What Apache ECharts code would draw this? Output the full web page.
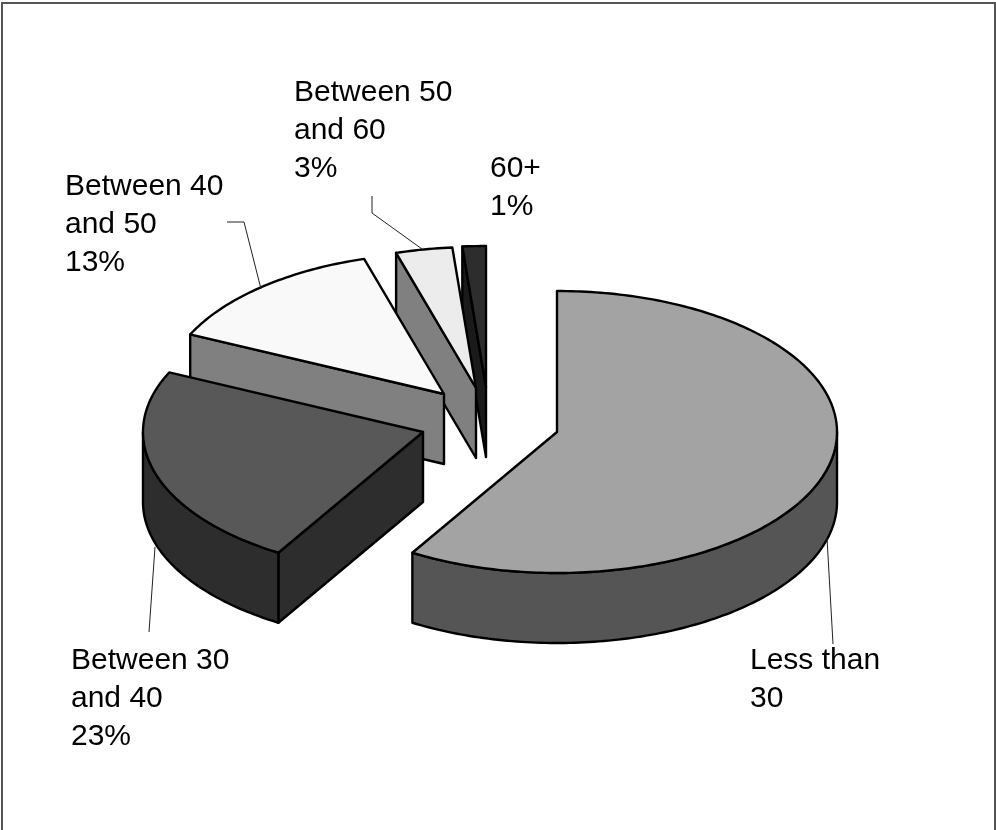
<!DOCTYPE html>
<html>
<head>
<meta charset="utf-8">
<style>html,body{margin:0;padding:0;background:#fff}#chart{width:996px;height:830px}</style>
<script src="https://cdn.jsdelivr.net/npm/echarts@6/dist/echarts.min.js"></script>
</head>
<body>
<div id="chart"></div>
<script>
// Age bands and their share of the total, in percent
const categories = ['Less than\n30', 'Between 30\nand 40', 'Between 40\nand 50', 'Between 50\nand 60', '60+'];
const shares = [60, 23, 13, 3, 1];
const shareLabels = ['', '23%', '13%', '3%', '1%'];

// Pie geometry: ellipse of the top face and extrusion depth
const pie = { cx: 557, cy: 432, rx: 280, ry: 141, depth: 70 };
// How far each slice is pulled out of the pie
const explode = [[0, 0], [-134, 0], [-113, -38], [-81, -44], [-71, -45]];
// Angular drift of the slice edges caused by the 3D view, in degrees
const viewSkew = 5;
// Slice styling
const topColors = ['#a3a3a3', '#585858', '#f9f9f9', '#ececec', '#2d2d2d'];
const sideColors = ['#555555', '#2d2d2d', '#808080', '#808080', '#1a1a1a'];
const paintRank = [5, 4, 3, 2, 1];
// Label blocks and their leader lines
const labelAnchors = [[750, 642], [71, 642], [65, 168], [294, 74], [490, 150]];
const leaders = [
  [[827, 538], [833, 644]],
  [[155, 547], [149, 632]],
  [[227, 222], [244, 222], [261, 289]],
  [[372, 196], [372, 213], [422, 249]],
  []
];

const total = shares.reduce((a, b) => a + b, 0);

function edgeAngle(i) {
  let sum = 0;
  for (let k = 0; k < i; k++) sum += shares[k];
  const deg = sum / total * 360;
  return deg - viewSkew * Math.pow(Math.sin(deg / 2 * Math.PI / 180), 0.4);
}

function rimPoint(deg, ox, oy, drop) {
  const t = deg * Math.PI / 180;
  return [pie.cx + ox + pie.rx * Math.sin(t), pie.cy + oy - pie.ry * Math.cos(t) + (drop || 0)];
}

function arc(from, to, ox, oy, drop) {
  const pts = [];
  const n = Math.max(2, Math.ceil(to - from));
  for (let k = 0; k <= n; k++) pts.push(rimPoint(from + (to - from) * k / n, ox, oy, drop));
  return pts;
}

function poly(points, fill, z2) {
  return {
    type: 'polygon', z2: z2,
    shape: { points: points },
    style: { fill: fill, stroke: '#000', lineWidth: 2.4, lineJoin: 'round' }
  };
}

function renderSlice(params, api) {
  const i = params.dataIndex;
  const from = edgeAngle(i);
  const to = edgeAngle(i + 1);
  const [ox, oy] = explode[i];
  const apex = [pie.cx + ox, pie.cy + oy];
  const d = pie.depth;
  const z = paintRank[i] * 10;
  const sin = a => Math.sin(a * Math.PI / 180);
  const children = [];

  // Radial cut faces that turn toward the viewer
  [[from, sin(from) < 0], [to, sin(to) > 0]].forEach(([edge, visible]) => {
    if (!visible) return;
    const p = rimPoint(edge, ox, oy);
    children.push(poly([apex, p, [p[0], p[1] + d], [apex[0], apex[1] + d]], sideColors[i], z));
  });

  // Outer wall, only along the front half of the rim
  const a = Math.max(from, 90);
  const b = Math.min(to, 270);
  if (b > a) {
    const wall = arc(a, b, ox, oy).concat(arc(a, b, ox, oy, d).reverse());
    children.push(poly(wall, sideColors[i], z + 1));
  }

  // Top face
  children.push(poly([apex].concat(arc(from, to, ox, oy)), topColors[i], z + 2));

  // Leader line and label sit above every slice
  if (leaders[i].length) {
    children.push({
      type: 'polyline', z2: 200,
      shape: { points: leaders[i] },
      style: { fill: null, stroke: '#222', lineWidth: 1 }
    });
  }
  const label = [categories[i], shareLabels[i]].filter(Boolean).join('\n');
  children.push({
    type: 'text', z2: 201,
    x: labelAnchors[i][0], y: labelAnchors[i][1],
    style: {
      text: label, fill: '#000', align: 'left', verticalAlign: 'top',
      font: '30px "Liberation Sans", Arial, sans-serif', lineHeight: 38
    }
  });

  return { type: 'group', children: children };
}

const chart = echarts.init(document.getElementById('chart'), null, { renderer: 'canvas' });
chart.setOption({
  animation: false,
  backgroundColor: '#fff',
  graphic: [{
    type: 'polyline',
    shape: { points: [[2, 830], [2, 3], [995, 3], [995, 830]] },
    style: { fill: null, stroke: '#555', lineWidth: 2 }
  }],
  series: [{
    type: 'custom',
    coordinateSystem: 'none',
    renderItem: renderSlice,
    data: shares.map((v, i) => ({ name: categories[i], value: v })),
    silent: true
  }]
});
</script>
</body>
</html>
